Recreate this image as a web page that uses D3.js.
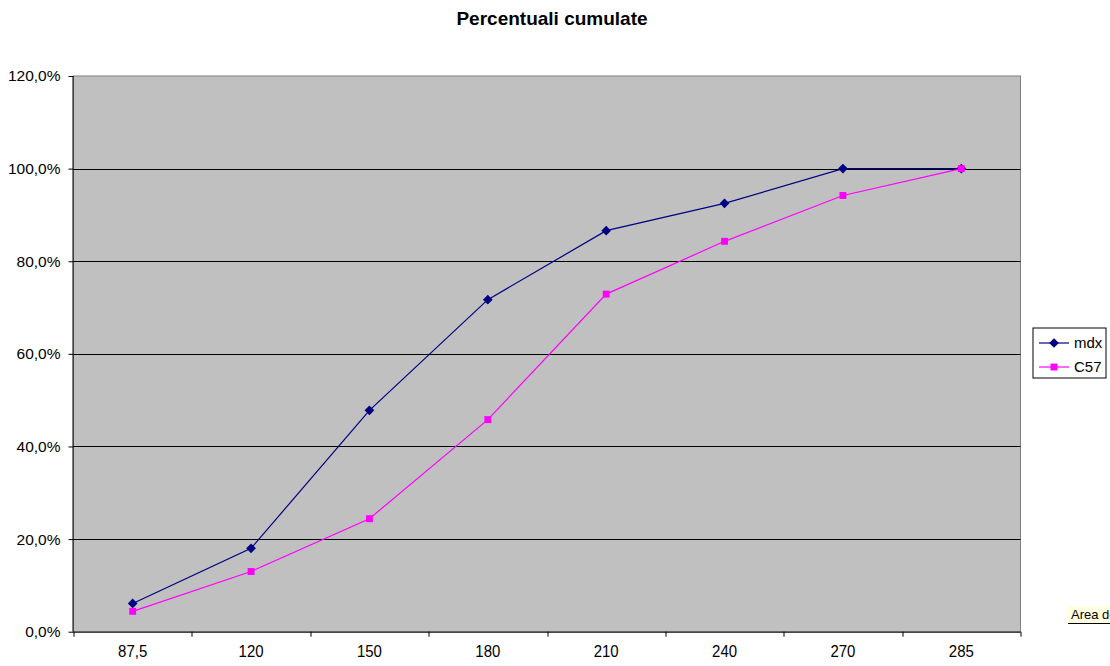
<!DOCTYPE html>
<html>
<head>
<meta charset="utf-8">
<script src="https://cdn.jsdelivr.net/npm/d3@7"></script>
<style>
  body { margin: 0; background: #fff; }
  #chart { position: relative; width: 1110px; height: 666px; overflow: hidden; }
  .tip {
    position: absolute; left: 1068px; top: 606px;
    background: #ffffe1; border: 1px solid #000; border-width: 0 0 1px 0;
    font: 13px "Liberation Sans", Arial, sans-serif; padding: 1px 3px; white-space: nowrap;
  }
</style>
</head>
<body>
<div id="chart"></div>
<script>
// categorie sull'asse x
const categories = ["87,5", "120", "150", "180", "210", "240", "270", "285"];
// percentuali cumulate per serie
const mdx = [6.1, 18.0, 47.8, 71.7, 86.6, 92.5, 100, 100];
const c57 = [4.4, 13.0, 24.4, 45.8, 72.9, 84.3, 94.2, 100];
const yTicks = [0, 20, 40, 60, 80, 100, 120];

const series = [
    { name: "mdx", values: mdx, color: "#000080", marker: "diamond" },
    { name: "C57", values: c57, color: "#ff00ff", marker: "square" }
];

const W = 1110, H = 666;
const margin = { top: 76, right: 89.5, bottom: 34.3, left: 73.5 },
      width = W - margin.left - margin.right,
      height = H - margin.top - margin.bottom;

const svg = d3.select("#chart").append("svg")
    .attr("width", W).attr("height", H)
    .style("font-family", "'Liberation Sans', Arial, sans-serif");

// titolo
svg.append("text")
    .attr("x", 552).attr("y", 25)
    .attr("text-anchor", "middle")
    .style("font-size", "19px").style("font-weight", "bold")
    .text("Percentuali cumulate");

const g = svg.append("g").attr("transform", `translate(${margin.left},${margin.top})`);

const x = d3.scaleBand().domain(categories).range([0, width]).padding(0);
const y = d3.scaleLinear().domain([0, 120]).range([height, 0]);

// area del grafico
g.append("rect")
    .attr("width", width).attr("height", height)
    .attr("fill", "#c0c0c0").attr("stroke", "#808080").attr("stroke-width", 1);

// griglia
g.selectAll(".grid").data(yTicks.filter(d => d > 0 && d < 120)).enter()
    .append("line")
    .attr("x1", 0).attr("x2", width)
    .attr("y1", d => Math.round(y(d)) + 0.5).attr("y2", d => Math.round(y(d)) + 0.5)
    .attr("stroke", "#000").attr("stroke-width", 1);

// asse y
const yAxis = g.append("g")
    .call(d3.axisLeft(y).tickValues(yTicks).tickSize(5).tickPadding(8)
        .tickFormat(d => d3.format(".1f")(d).replace(".", ",") + "%"));
yAxis.selectAll("text").style("font-size", "15.5px").attr("fill", "#000");
yAxis.selectAll("line").attr("stroke", "#000");
yAxis.select(".domain").attr("stroke", "#000").attr("d", `M-0.5,0V${height}`);

// asse x
const xAxis = g.append("g").attr("transform", `translate(0,${height})`)
    .call(d3.axisBottom(x).tickSize(0).tickPadding(15));
xAxis.selectAll("text").style("font-size", "15px").attr("fill", "#000")
    .attr("transform", "scale(1,1.12)").attr("dy", "0.5em");
xAxis.select(".domain").attr("stroke", "#000").attr("d", `M0,0.5H${width}`);
const bounds = categories.map(c => x(c)).concat([width]);
xAxis.selectAll(".bound").data(bounds).enter().append("line")
    .attr("x1", d => Math.round(d) + 0.5).attr("x2", d => Math.round(d) + 0.5)
    .attr("y1", 0).attr("y2", 5).attr("stroke", "#000");

// linee e marcatori
const cx = c => x(c) + x.bandwidth() / 2;
const line = d3.line().x((d, i) => cx(categories[i])).y(d => y(d));

series.forEach(s => {
    g.append("path").datum(s.values)
        .attr("fill", "none").attr("stroke", s.color).attr("stroke-width", 1.2)
        .attr("d", line);
});
series.forEach(s => {
    const sym = s.marker === "diamond"
        ? d3.symbol().type(d3.symbolDiamond2).size(60)
        : d3.symbol().type(d3.symbolSquare).size(48);
    g.selectAll(null).data(s.values).enter().append("path")
        .attr("transform", (d, i) => `translate(${cx(categories[i])},${y(d)})`)
        .attr("d", sym)
        .attr("fill", s.color);
});

// legenda
const leg = svg.append("g").attr("transform", "translate(1033,328)");
leg.append("rect").attr("width", 73).attr("height", 50)
    .attr("fill", "#fff").attr("stroke", "#000");
series.forEach((s, i) => {
    const yy = 15 + i * 24;
    leg.append("line").attr("x1", 6).attr("x2", 36).attr("y1", yy).attr("y2", yy)
        .attr("stroke", s.color).attr("stroke-width", 1.2);
    const sym = s.marker === "diamond"
        ? d3.symbol().type(d3.symbolDiamond2).size(60)
        : d3.symbol().type(d3.symbolSquare).size(48);
    leg.append("path").attr("transform", `translate(21,${yy})`).attr("d", sym).attr("fill", s.color);
    leg.append("text").attr("x", 41).attr("y", yy).attr("dy", "0.35em")
        .style("font-size", "15px").text(s.name);
});

d3.select("#chart").append("div").attr("class", "tip").text("Area del grafico");
</script>
</body>
</html>
